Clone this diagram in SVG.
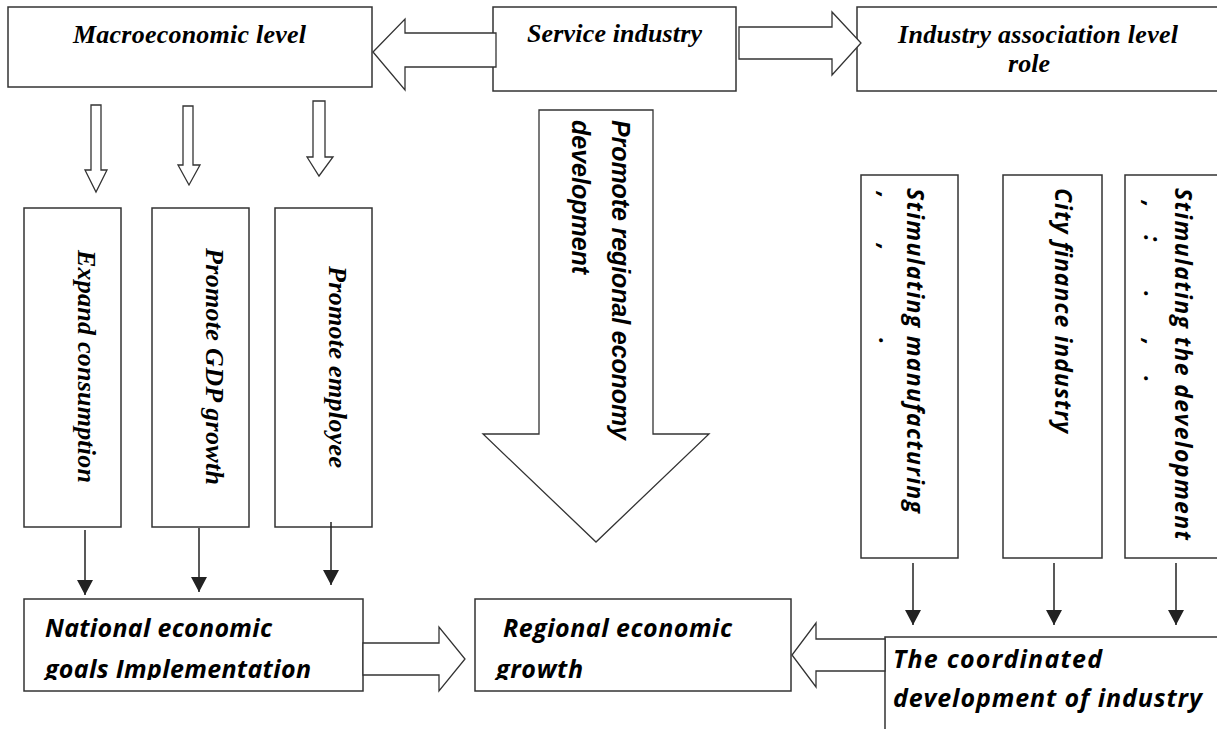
<svg xmlns="http://www.w3.org/2000/svg" width="1217" height="729" viewBox="0 0 1217 729">
<style>
.box{fill:#fff;stroke:#333;stroke-width:1.5}
.ha{fill:#fff;stroke:#333;stroke-width:1.3}
.ln{stroke:#222;stroke-width:1.5;fill:none}
.serif{font-family:"Liberation Serif","Times New Roman",serif;font-weight:bold;font-style:italic;font-size:26px;fill:#000}
.sans{font-family:"Open Sans","Liberation Sans",sans-serif;font-weight:bold;font-style:italic;font-size:25px;fill:#000}
.vs{font-family:"Open Sans","Liberation Sans",sans-serif;font-weight:bold;font-style:italic;font-size:23px;fill:#000}
.arial{font-family:"Liberation Sans",Arial,sans-serif;font-weight:bold;font-style:italic;font-size:25px;fill:#000}
</style>
<defs>
<marker id="ah" markerUnits="userSpaceOnUse" markerWidth="16" markerHeight="16" refX="15" refY="8" orient="auto">
<path d="M0,0 L15,8 L0,16 Z" fill="#222"/>
</marker>
<clipPath id="clipBottom"><rect x="0" y="0" width="1217" height="680"/></clipPath>
</defs>

<g id="macro">
<rect class="box" x="8" y="7" width="364" height="80"/>
<text class="serif" x="73" y="43" textLength="233">Macroeconomic level</text>
</g>

<g id="service">
<rect class="box" x="493" y="7" width="243" height="84"/>
<text class="serif" x="527" y="42" textLength="175">Service industry</text>
</g>

<g id="association">
<rect class="box" x="857" y="7" width="380" height="84"/>
<text class="serif" x="898" y="43" textLength="280">Industry association level</text>
<text class="serif" x="1008" y="72" textLength="42">role</text>
</g>

<g id="expand">
<rect class="box" x="24" y="208" width="97" height="319"/>
<text class="serif" transform="translate(78,250) rotate(90)" x="0" y="0" textLength="233">Expand consumption</text>
</g>

<g id="gdp">
<rect class="box" x="152" y="208" width="97" height="319"/>
<text class="serif" transform="translate(206,248) rotate(90)" x="0" y="0" textLength="237">Promote GDP growth</text>
</g>

<g id="employee">
<rect class="box" x="275" y="208" width="97" height="319"/>
<text class="serif" transform="translate(329,266) rotate(90)" x="0" y="0" textLength="202">Promote employee</text>
</g>

<g id="manufacturing">
<rect class="box" x="861" y="175" width="97" height="383"/>
<text class="vs" transform="translate(907,188) rotate(90)" x="0" y="0" textLength="325">Stimulating manufacturing</text>
<text class="vs" transform="translate(879,192) rotate(90)">,</text>
<text class="vs" transform="translate(879,244) rotate(90)">,</text>
<text class="vs" transform="translate(879,338) rotate(90)">.</text>
</g>

<g id="finance">
<rect class="box" x="1003" y="175" width="99" height="383"/>
<text class="vs" transform="translate(1055,188) rotate(90)" x="0" y="0" textLength="245">City finance industry</text>
</g>

<g id="development">
<rect class="box" x="1125" y="175" width="110" height="383"/>
<text class="vs" transform="translate(1175,188) rotate(90)" x="0" y="0" textLength="352">Stimulating the development</text>
<text class="vs" transform="translate(1144,201) rotate(90)">,</text>
<text class="vs" transform="translate(1144,235) rotate(90)">:</text>
<text class="vs" transform="translate(1144,291) rotate(90)">.</text>
<text class="vs" transform="translate(1144,339) rotate(90)">,</text>
<text class="vs" transform="translate(1144,376) rotate(90)">.</text>
</g>

<g id="national">
<rect class="box" x="24" y="599" width="339" height="92"/>
<g clip-path="url(#clipBottom)">
<text class="sans" x="45" y="637" textLength="227">National economic</text>
<text class="sans" x="45" y="678" textLength="266">goals Implementation</text>
</g>
</g>

<g id="regional">
<rect class="box" x="475" y="599" width="316" height="92"/>
<g clip-path="url(#clipBottom)">
<text class="sans" x="503" y="637" textLength="229">Regional economic</text>
<text class="sans" x="496" y="678" textLength="87">growth</text>
</g>
</g>

<g id="coordinated">
<rect class="box" x="885" y="637" width="360" height="110"/>
<text class="sans" x="893" y="668" textLength="209">The coordinated</text>
<text class="sans" x="893" y="707" textLength="309">development of industry</text>
</g>

<g id="connectors">
<polygon class="ha" points="373,52 405,19 405,33 496,33 496,67 405,67 405,90"/>
<polygon class="ha" points="739,27 832,27 832,12 861,43 832,75 832,59 739,59"/>
<polygon class="ha" points="91,105 101,105 101,170 107,170 96,192 85,170 91,170"/>
<polygon class="ha" points="183,106 193,106 193,165 200,165 189,185 178,165 183,165"/>
<polygon class="ha" points="313,101 325,101 325,157 333,157 319,176 307,157 313,157"/>
<g id="regionalArrow">
<polygon class="ha" points="539,110 653,110 653,434 709,434 596,542 483,434 539,434"/>
<text class="arial" transform="translate(612,120) rotate(90)" x="0" y="0" textLength="320">Promote regional economy</text>
<text class="arial" transform="translate(572,120) rotate(90)" x="0" y="0">development</text>
</g>
<polygon class="ha" points="363,643 439,643 439,627 465,659 439,691 439,675 363,675"/>
<polygon class="ha" points="885,639 816,639 816,623 792,655 816,687 816,671 885,671"/>
<line class="ln" x1="85" y1="530" x2="85" y2="595" marker-end="url(#ah)"/>
<line class="ln" x1="199" y1="528" x2="199" y2="592" marker-end="url(#ah)"/>
<line class="ln" x1="331" y1="522" x2="331" y2="585" marker-end="url(#ah)"/>
<line class="ln" x1="913" y1="563" x2="913" y2="625" marker-end="url(#ah)"/>
<line class="ln" x1="1054" y1="563" x2="1054" y2="625" marker-end="url(#ah)"/>
<line class="ln" x1="1176" y1="563" x2="1176" y2="625" marker-end="url(#ah)"/>
</g>
</svg>
